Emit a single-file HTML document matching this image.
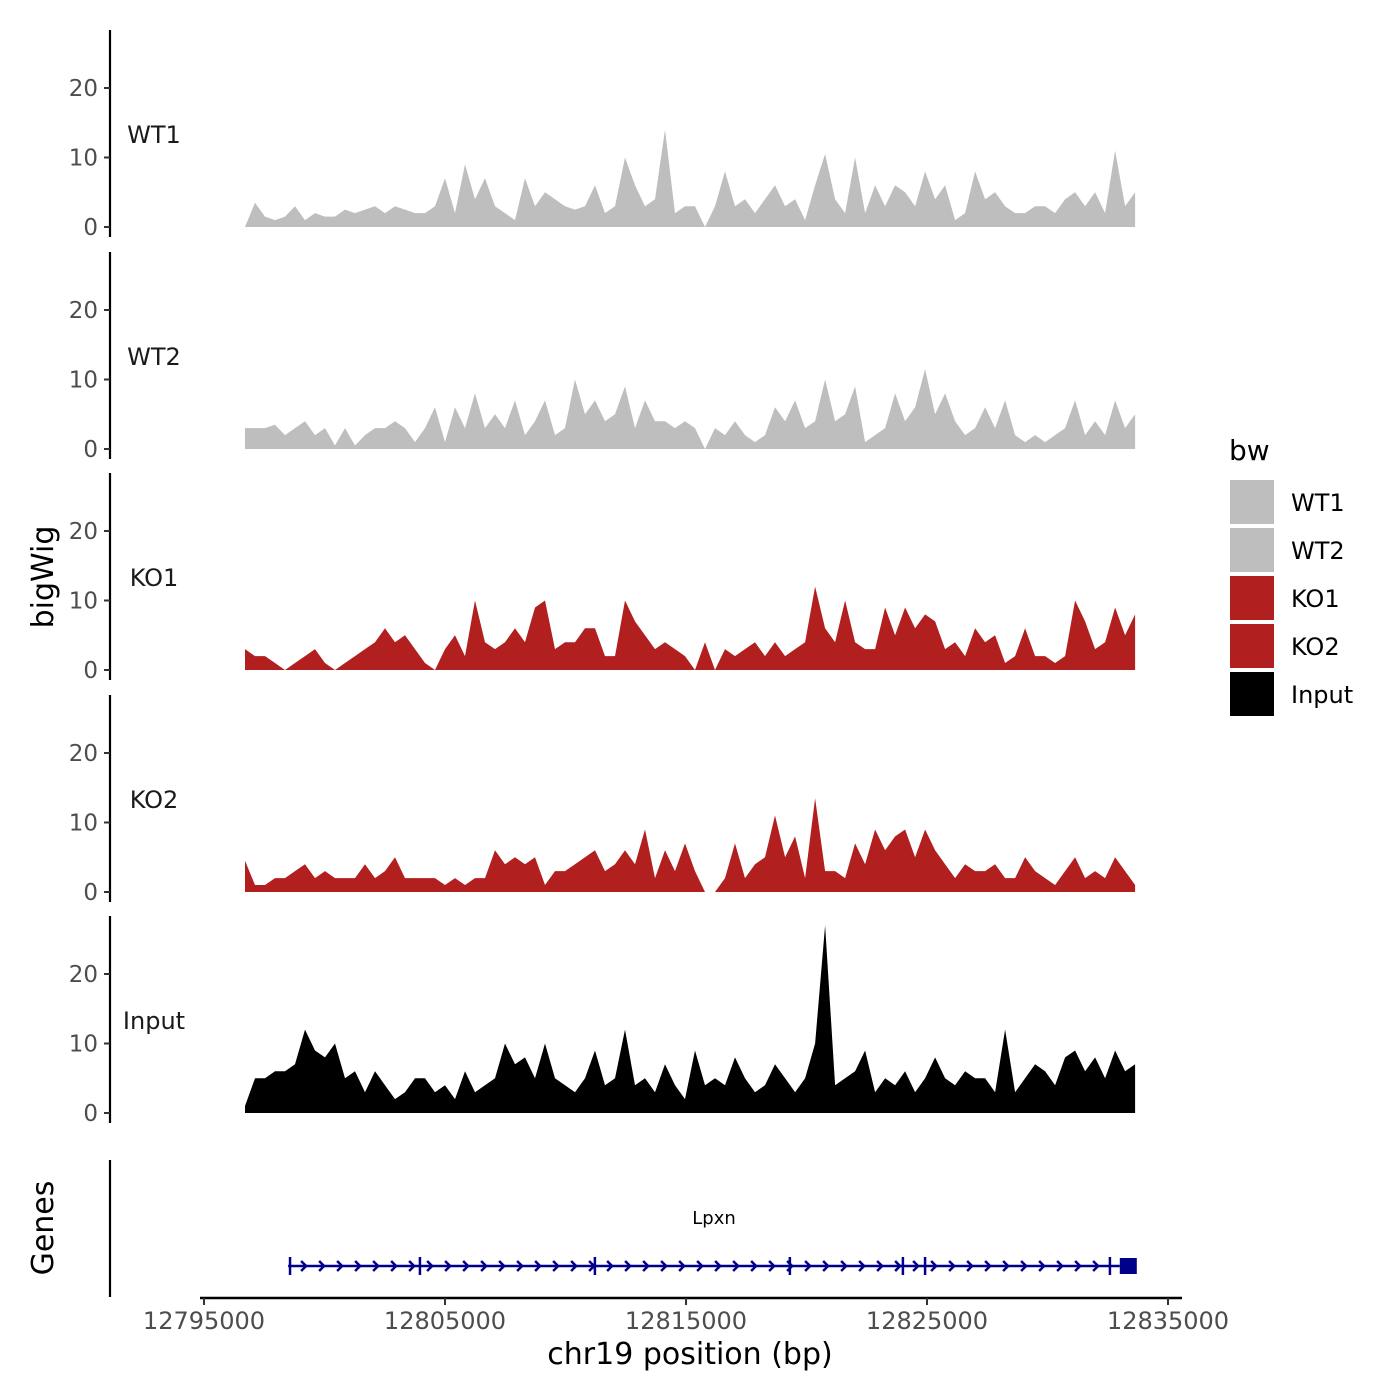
<!DOCTYPE html>
<html><head><meta charset="utf-8"><style>
html,body{margin:0;padding:0;background:#fff;}
svg{display:block;font-family:"DejaVu Sans","Liberation Sans",sans-serif;}
</style></head><body>
<svg id="chart" width="1400" height="1400" viewBox="0 0 1400 1400"></svg>
<script>
const trackNames = ["WT1","WT2","KO1","KO2","Input"];
const trackColors = ["#bebebe","#bebebe","#b21f1f","#b21f1f","#000000"];
const binStart = 12796700;
const binStep = 415;
const wt1 = [0,3.5,1.5,1,1.5,3,1,2,1.5,1.5,2.5,2,2.5,3,2,3,2.5,2,2,3,7,2,9,4,7,3,2,1,7,3,5,4,3,2.5,3,6,2,3,10,6,3,4,14,2,3,3,0,3,8,3,4,2,4,6,3,4,1,6,10.5,4,2,10,2,6,3,6,5,3,8,4,6,1,2,8,4,5,3,2,2,3,3,2,4,5,3,5,2,11,3,5];
const wt2 = [3,3,3,3.5,2,3,4,2,3,0.5,3,0.5,2,3,3,4,3,1,3,6,1,6,3,8,3,5,3,7,2,4,7,2,3,10,5,7,4,5,9,3,7,4,4,3,4,3,0,3,2,4,2,1,2,6,4,7,3,4,10,4,5,9,1,2,3,8,4,6,11.5,5,8,4,2,3,6,3,7,2,1,2,1,2,3,7,2,4,2,7,3,5];
const ko1 = [3,2,2,1,0,1,2,3,1,0,1,2,3,4,6,4,5,3,1,0,3,5,2,10,4,3,4,6,4,9,10,3,4,4,6,6,2,2,10,7,5,3,4,3,2,0,4,0,3,2,3,4,2,4,2,3,4,12,6,4,10,4,3,3,9,5,9,6,8,7,3,4,2,6,4,5,1,2,6,2,2,1,2,10,7,3,4,9,5,8];
const ko2 = [4.5,1,1,2,2,3,4,2,3,2,2,2,4,2,3,5,2,2,2,2,1,2,1,2,2,6,4,5,4,5,1,3,3,4,5,6,3,4,6,4,9,2,6,3,7,3,0,0,2,7,2,4,5,11,5,8,2,13.5,3,3,2,7,4,9,6,8,9,5,9,6,4,2,4,3,3,4,2,2,5,3,2,1,3,5,2,3,2,5,3,1];
const inputVals = [1,5,5,6,6,7,12,9,8,10,5,6,3,6,4,2,3,5,5,3,4,2,6,3,4,5,10,7,8,5,10,5,4,3,5,9,4,5,12,4,5,3,7,4,2,9,4,5,4,8,5,3,4,7,5,3,5,10,27,4,5,6,9,3,5,4,6,3,5,8,5,4,6,5,5,3,12,3,5,7,6,4,8,9,6,8,5,9,6,7];
const trackValues = [wt1,wt2,ko1,ko2,inputVals];
const yTicks = [0,10,20];
const xTicks = [12795000,12805000,12815000,12825000,12835000];
const exonStarts = [12798570,12803960,12811220,12819310,12824000,12824920,12832590];
const geneStart = 12798490, geneEnd = 12833000;

const NS="http://www.w3.org/2000/svg";
const svg=document.getElementById('chart');
function el(tag,attrs,parent){const e=document.createElementNS(NS,tag);for(const k in attrs)e.setAttribute(k,attrs[k]);(parent||svg).appendChild(e);return e;}
const xScale = bp => 204 + (bp-12795000)*241/10000;
const zeroY = [227,449,670,892,1113];
const yPer = 6.95;

trackNames.forEach((name,t)=>{
  const g=el('g',{});
  
  
  const z=zeroY[t];
  const ax=el('line',{x1:110,x2:110,y1:z-197,y2:z+10,stroke:'#000','stroke-width':2.2},g);
  
  
  yTicks.forEach(v=>{
    const y=z-v*yPer;
    el('line',{x1:104,x2:110,y1:y,y2:y,stroke:'#333','stroke-width':2},g);
    const tx=el('text',{x:98,y:y+8,'text-anchor':'end','font-size':23,fill:'#4d4d4d'},g);
    tx.textContent=v;
    
    
  });
  const lab=el('text',{x:154,y:z-84,'text-anchor':'middle','font-size':24,fill:'#1a1a1a'},g);
  lab.textContent=name;
  
  
  const vals=trackValues[t];
  let d='M'+xScale(binStart).toFixed(1)+','+z;
  vals.forEach((v,i)=>{d+=' L'+xScale(binStart+binStep*i).toFixed(1)+','+(z-v*yPer).toFixed(1);});
  d+=' L'+xScale(binStart+binStep*(vals.length-1)).toFixed(1)+','+z+' Z';
  const p=el('path',{d:d,fill:trackColors[t]},g);
  
  
});

const yt=el('text',{x:0,y:0,transform:'translate(53,577) rotate(-90)','text-anchor':'middle','font-size':30,fill:'#000'});
yt.textContent='bigWig';



const gg=el('g',{});


el('line',{x1:110,x2:110,y1:1160,y2:1297,stroke:'#000','stroke-width':2.2},gg);
const gt=el('text',{x:0,y:0,transform:'translate(53,1228) rotate(-90)','text-anchor':'middle','font-size':30,fill:'#000'},gg);
gt.textContent='Genes';


const gx1=xScale(geneStart), gx2=xScale(geneEnd);
const gl=el('line',{x1:gx1,x2:gx2,y1:1266,y2:1266,stroke:'#00008b','stroke-width':2.5},gg);


for(let x=gx1+16;x<gx2-8;x+=18){
  el('path',{d:`M${x-3},${1261} L${x+2},${1266} L${x-3},${1271}`,stroke:'#00008b','stroke-width':2.5,fill:'none'},gg);
}
exonStarts.forEach(bp=>{const x=xScale(bp);el('line',{x1:x,x2:x,y1:1257,y2:1275,stroke:'#00008b','stroke-width':2.5},gg);});
el('rect',{x:gx2,y:1258,width:17,height:16,fill:'#00008b'},gg);
const gn=el('text',{x:714,y:1224,'text-anchor':'middle','font-size':18,fill:'#000'},gg);
gn.textContent='Lpxn';



const xa=el('g',{});


el('line',{x1:200,x2:1182,y1:1298,y2:1298,stroke:'#000','stroke-width':2.5},xa);
xTicks.forEach(bp=>{
  const x=xScale(bp);
  el('line',{x1:x,x2:x,y1:1298,y2:1305,stroke:'#333','stroke-width':2},xa);
  const tx=el('text',{x:x,y:1329,'text-anchor':'middle','font-size':24,fill:'#4d4d4d'},xa);
  tx.textContent=bp;
  
  
});
const xt=el('text',{x:690,y:1364,'text-anchor':'middle','font-size':30,fill:'#000'});
xt.textContent='chr19 position (bp)';



const lg=el('g',{});


const lt=el('text',{x:1229,y:460,'font-size':28,fill:'#000'},lg);
lt.textContent='bw';


trackNames.forEach((n,i)=>{
  const y=480+i*48;
  const r=el('rect',{x:1230,y:y,width:44,height:44,fill:trackColors[i]},lg);
  
  
  const tx=el('text',{x:1291,y:y+31,'font-size':24,fill:'#000'},lg);
  tx.textContent=n;
  
  
});
</script>
</body></html>
